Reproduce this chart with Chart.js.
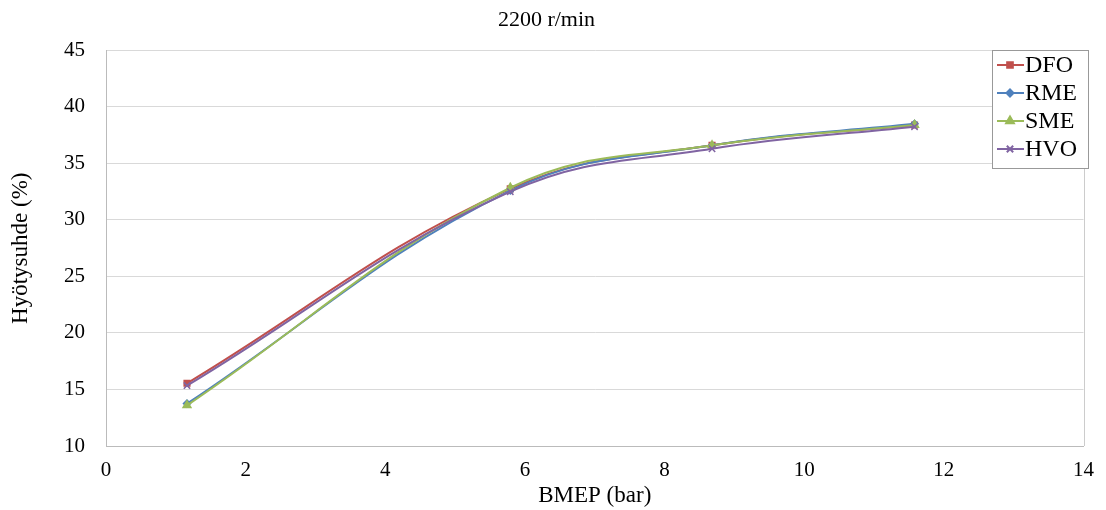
<!DOCTYPE html>
<html>
<head>
<meta charset="utf-8">
<script src="https://cdn.jsdelivr.net/npm/chart.js@4"></script>
<style>
  body { margin: 0; background: #fff; }
  #wrap { width: 1106px; height: 510px; }
</style>
</head>
<body>
<div id="wrap"><canvas id="myChart"></canvas></div>
<script>
// BMEP (bar) load points
const bmep = [1.16, 5.79, 8.68, 11.58];
// efficiency (%) per fuel
const dfo = [15.55, 32.75, 36.6, 38.4];
const rme = [13.75, 32.6, 36.6, 38.5];
const sme = [13.6, 32.85, 36.6, 38.4];
const hvo = [15.35, 32.5, 36.3, 38.25];
const xTicks = [0, 2, 4, 6, 8, 10, 12, 14];
const yTicks = [10, 15, 20, 25, 30, 35, 40, 45];

const FONT = '"Liberation Serif", "Times New Roman", serif';

function pts(ys) {
    return bmep.map((x, i) => ({ x: x, y: ys[i] }));
}

function series(label, ys, color, style, radius, order) {
    return {
        label: label,
        data: pts(ys),
        borderColor: color,
        backgroundColor: color,
        pointStyle: style,
        pointRadius: radius,
        pointBorderWidth: 1.5,
        borderWidth: 2,
        tension: 0.4,
        fill: false,
        order: order
    };
}

// legend box drawn inside the plot, top right
const boxLegend = {
    id: 'boxLegend',
    afterDraw(chart) {
        const c = chart.ctx;
        const x0 = 992, y0 = 50, w = 96, h = 118;
        c.save();
        c.fillStyle = '#fff';
        c.fillRect(x0, y0, w, h);
        c.strokeStyle = '#999';
        c.lineWidth = 1;
        c.strokeRect(x0 + 0.5, y0 + 0.5, w, h);
        c.font = '24px ' + FONT;
        c.textBaseline = 'middle';
        chart.data.datasets.forEach((ds, i) => {
            const y = y0 + 15 + i * 28;
            c.strokeStyle = ds.borderColor;
            c.fillStyle = ds.backgroundColor;
            c.lineWidth = 2;
            c.beginPath();
            c.moveTo(x0 + 5, y);
            c.lineTo(x0 + 32, y);
            c.stroke();
            Chart.helpers.drawPoint(c, {
                pointStyle: ds.pointStyle,
                radius: ds.pointRadius,
                borderWidth: 1.5
            }, x0 + 18, y);
            c.fillStyle = '#000';
            c.fillText(ds.label, x0 + 33, y + 1);
        });
        c.restore();
    }
};

new Chart(document.getElementById('myChart'), {
    type: 'line',
    data: {
        datasets: [
            series('DFO', dfo, '#C0504D', 'rect', 4, 3),
            series('RME', rme, '#4F81BD', 'rectRot', 3.5, 2),
            series('SME', sme, '#9BBB59', 'triangle', 4.5, 1),
            series('HVO', hvo, '#8064A2', 'crossRot', 4.5, 0)
        ]
    },
    options: {
        responsive: true,
        maintainAspectRatio: false,
        animation: false,
        layout: { padding: { top: 0, right: 13, bottom: 0, left: 0 } },
        plugins: {
            legend: { display: false },
            tooltip: { enabled: false },
            title: {
                display: true,
                text: '2200 r/min',
                font: { family: FONT, size: 22, weight: 'normal' },
                color: '#000',
                padding: { top: 7, bottom: 17 }
            }
        },
        scales: {
            x: {
                type: 'linear',
                min: 0,
                max: 14,
                afterBuildTicks: (s) => { s.ticks = xTicks.map(v => ({ value: v })); },
                afterFit: (s) => { s.height = 64; },
                grid: { display: false, drawTicks: false },
                border: { color: '#bbb' },
                ticks: { color: '#000', font: { family: FONT, size: 21 }, padding: 12 },
                title: {
                    display: true,
                    text: 'BMEP (bar)',
                    color: '#000',
                    font: { family: FONT, size: 23 },
                    padding: { top: 0, bottom: 0 }
                }
            },
            y: {
                min: 10,
                max: 45,
                afterBuildTicks: (s) => { s.ticks = yTicks.map(v => ({ value: v })); },
                afterFit: (s) => { s.width = 106; },
                grid: { color: '#d9d9d9', drawTicks: false },
                border: { color: '#bbb' },
                ticks: { color: '#000', font: { family: FONT, size: 21 }, padding: 21 },
                title: {
                    display: true,
                    text: 'Hyötysuhde (%)',
                    color: '#000',
                    font: { family: FONT, size: 23 },
                    padding: { top: 7, bottom: 0 }
                }
            }
        }
    },
    plugins: [{
        id: 'frame',
        beforeDatasetsDraw(chart) {
            const a = chart.chartArea, c = chart.ctx;
            c.save();
            c.strokeStyle = '#ccc';
            c.lineWidth = 1;
            c.beginPath();
            c.moveTo(Math.round(a.right) + 0.5, a.top);
            c.lineTo(Math.round(a.right) + 0.5, a.bottom);
            c.stroke();
            c.restore();
        }
    }, boxLegend]
});
</script>
</body>
</html>
